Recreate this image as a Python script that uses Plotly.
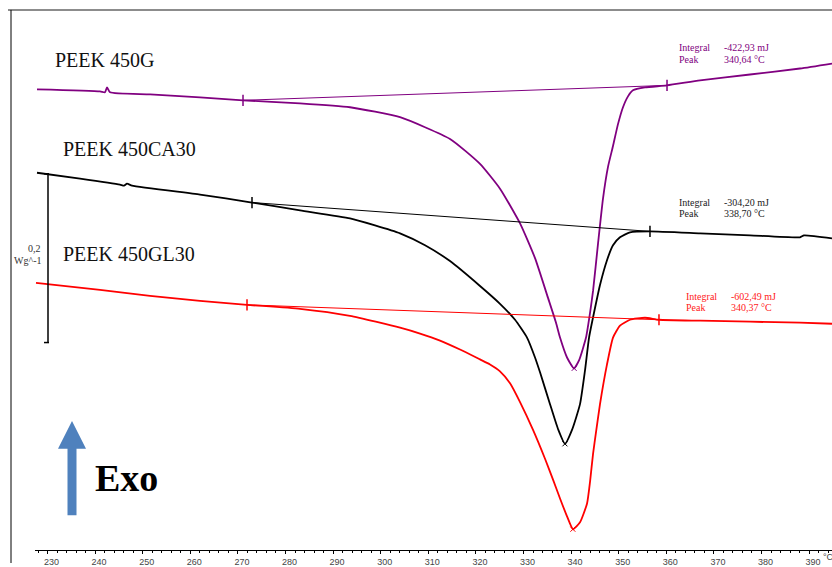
import plotly.graph_objects as go

# ---------------- data ----------------
temp_450G = [227.79, 241.03, 242.08, 242.50, 243.13, 251.54, 262.04, 271.07, 283.05, 293.55,
             304.06, 314.56, 320.86, 325.06, 329.27, 332.42, 335.15, 336.83, 337.67, 339.14,
             340.61, 341.66, 343.13, 343.98, 344.61, 345.66, 346.70, 347.75, 348.80, 349.85,
             350.90, 351.95, 353.00, 355.52, 360.15, 367.09, 377.59, 388.09, 394.81]
hf_450G = [0.5459, 0.5435, 0.5424, 0.5482, 0.5424, 0.5400, 0.5365, 0.5329, 0.5294, 0.5247,
           0.5129, 0.4871, 0.4576, 0.4282, 0.3871, 0.3459, 0.2988, 0.2694, 0.2518, 0.2282,
           0.2153, 0.2247, 0.2518, 0.2812, 0.3071, 0.3635, 0.4165, 0.4541, 0.4788, 0.5047,
           0.5247, 0.5376, 0.5447, 0.5482, 0.5506, 0.5565, 0.5635, 0.5706, 0.5765]

temp_450CA30 = [227.79, 236.83, 245.23, 246.07, 246.70, 247.75, 262.04, 272.96, 283.05, 293.55,
                298.80, 304.06, 309.31, 314.56, 320.86, 325.06, 328.22, 330.74, 332.42, 333.47,
                335.57, 337.25, 338.72, 340.19, 341.87, 342.92, 343.77, 345.03, 346.07, 347.54,
                348.80, 350.27, 352.37, 356.57, 367.09, 377.59, 388.09, 388.93, 394.81]
hf_450CA30 = [0.4471, 0.4400, 0.4329, 0.4318, 0.4341, 0.4318, 0.4212, 0.4118, 0.4024, 0.3929,
              0.3847, 0.3753, 0.3612, 0.3424, 0.3129, 0.2918, 0.2729, 0.2518, 0.2282, 0.2106,
              0.1729, 0.1435, 0.1259, 0.1424, 0.1729, 0.2129, 0.2518, 0.2871, 0.3141, 0.3435,
              0.3612, 0.3706, 0.3765, 0.3776, 0.3753, 0.3729, 0.3706, 0.3729, 0.3694]

temp_450GL30 = [227.58, 241.03, 251.54, 262.04, 271.91, 283.05, 293.55, 304.06, 308.26, 312.46,
                316.66, 320.86, 322.96, 325.06, 327.17, 329.27, 332.00, 334.52, 336.20, 337.67,
                339.14, 340.40, 341.87, 343.35, 343.98, 344.61, 345.24, 346.07, 347.54, 348.80,
                350.27, 352.37, 355.52, 358.46, 367.09, 377.59, 388.09, 394.81]
hf_450GL30 = [0.3165, 0.3082, 0.3012, 0.2953, 0.2906, 0.2859, 0.2776, 0.2635, 0.2565, 0.2482,
              0.2376, 0.2259, 0.2200, 0.2118, 0.1976, 0.1753, 0.1424, 0.1082, 0.0835, 0.0612,
              0.0400, 0.0247, 0.0329, 0.0553, 0.0812, 0.1141, 0.1400, 0.1729, 0.2200, 0.2518,
              0.2659, 0.2729, 0.2753, 0.2729, 0.2718, 0.2706, 0.2694, 0.2682]

# integration baselines (start / end limits)
base_450G_t = [271.07, 360.15]
base_450G_hf = [0.5329, 0.5506]
base_450CA30_t = [272.96, 356.57]
base_450CA30_hf = [0.4118, 0.3776]
base_450GL30_t = [271.91, 358.46]
base_450GL30_hf = [0.2906, 0.2729]

# peaks
peak_t = [340.64, 338.70, 340.37]
peak_hf = [0.2153, 0.1259, 0.0247]
integrals = ["-422,93 mJ", "-304,20 mJ", "-602,49 mJ"]
peaks_txt = ["340,64 °C", "338,70 °C", "340,37 °C"]
names = ["PEEK 450G", "PEEK 450CA30", "PEEK 450GL30"]
colors = ["#800080", "#000000", "#ff0000"]

scale_bar_bottom = 0.2459
scale_bar_size = 0.2   # W/g

tick_vals = list(range(230, 400, 10))

# ---------------- figure ----------------
W, H = 832, 567
def px(x):
    return x / W
def py(y):
    return 1 - y / H

fig = go.Figure()
series = [(temp_450G, hf_450G, base_450G_t, base_450G_hf),
          (temp_450CA30, hf_450CA30, base_450CA30_t, base_450CA30_hf),
          (temp_450GL30, hf_450GL30, base_450GL30_t, base_450GL30_hf)]
for i, (t, h, bt, bh) in enumerate(series):
    c = colors[i]
    fig.add_trace(go.Scatter(x=bt, y=bh, mode="lines", line=dict(color=c, width=1),
                             hoverinfo="skip", showlegend=False))
    fig.add_trace(go.Scatter(x=t, y=h, mode="lines", line=dict(color=c, width=1.8, shape="spline", smoothing=0.5),
                             name=names[i], showlegend=False))
    fig.add_trace(go.Scatter(x=bt, y=bh, mode="markers",
                             marker=dict(symbol="line-ns", size=8, line=dict(color=c, width=1.5)),
                             hoverinfo="skip", showlegend=False))
    fig.add_trace(go.Scatter(x=[peak_t[i]], y=[peak_hf[i]], mode="markers",
                             marker=dict(symbol="x-thin", size=5, line=dict(color=c, width=1)),
                             hoverinfo="skip", showlegend=False))

serif = "Liberation Serif"
annots = []
label_pos = [(53, 60), (61, 150), (61, 256)]
for i, (lx, ly) in enumerate(label_pos):
    annots.append(dict(x=px(lx), y=py(ly), xref="paper", yref="paper", text=names[i],
                       showarrow=False, xanchor="left", yanchor="middle",
                       font=dict(family=serif, size=20, color="#111")))

info_pos = [(677, 722, 48, 60), (677, 722, 204, 215), (684, 729, 299, 310)]
info_cols = ["#800080", "#222222", "#ff2020"]
for i, (x1, x2, y1, y2) in enumerate(info_pos):
    f = dict(family=serif, size=10, color=info_cols[i])
    annots += [
        dict(x=px(x1), y=py(y1), xref="paper", yref="paper", text="Integral", showarrow=False,
             xanchor="left", yanchor="middle", font=f),
        dict(x=px(x2), y=py(y1), xref="paper", yref="paper", text=integrals[i], showarrow=False,
             xanchor="left", yanchor="middle", font=f),
        dict(x=px(x1), y=py(y2), xref="paper", yref="paper", text="Peak", showarrow=False,
             xanchor="left", yanchor="middle", font=f),
        dict(x=px(x2), y=py(y2), xref="paper", yref="paper", text=peaks_txt[i], showarrow=False,
             xanchor="left", yanchor="middle", font=f),
    ]

annots += [
    dict(x=px(43), y=py(250), xref="paper", yref="paper", text="0,2", showarrow=False,
         xanchor="right", yanchor="middle", font=dict(family=serif, size=10, color="#333")),
    dict(x=px(43), y=py(262), xref="paper", yref="paper", text="Wg^-1", showarrow=False,
         xanchor="right", yanchor="middle", font=dict(family=serif, size=10, color="#333")),
    dict(x=px(93), y=py(481), xref="paper", yref="paper", text="<b>Exo</b>", showarrow=False,
         xanchor="left", yanchor="middle", font=dict(family=serif, size=38, color="#000")),
    dict(x=px(821), y=py(561), xref="paper", yref="paper", text="°C", showarrow=False,
         xanchor="left", yanchor="middle", font=dict(family="Liberation Sans", size=9, color="#444")),
]

shapes = [
    dict(type="line", xref="paper", yref="paper", x0=px(8), x1=1, y0=py(10), y1=py(10),
         line=dict(color="#8c8c8c", width=2)),
    dict(type="line", xref="paper", yref="paper", x0=px(11), x1=px(11), y0=py(10), y1=0,
         line=dict(color="#000", width=1)),
    # scale bar
    dict(type="line", xref="paper", yref="y", x0=px(48), x1=px(48),
         y0=scale_bar_bottom, y1=scale_bar_bottom + scale_bar_size, line=dict(color="#000", width=1.5)),
    dict(type="line", xref="paper", yref="y", x0=px(44), x1=px(49),
         y0=scale_bar_bottom, y1=scale_bar_bottom, line=dict(color="#000", width=1.5)),
    dict(type="line", xref="paper", yref="y", x0=px(44), x1=px(49),
         y0=scale_bar_bottom + scale_bar_size, y1=scale_bar_bottom + scale_bar_size,
         line=dict(color="#000", width=1.5)),
]
# Exo arrow
path = (f"M {px(67.5)},{py(519)} L {px(76.5)},{py(519)} L {px(76.5)},{py(452)} "
        f"L {px(86)},{py(452)} L {px(72)},{py(424)} L {px(58)},{py(452)} "
        f"L {px(67.5)},{py(452)} Z")
shapes.append(dict(type="path", xref="paper", yref="paper", path=path,
                   fillcolor="#4f81bd", line=dict(width=0)))

fig.update_layout(
    width=W, height=H, autosize=False,
    margin=dict(l=0, r=0, t=0, b=0, pad=0),
    paper_bgcolor="white", plot_bgcolor="white",
    annotations=annots, shapes=shapes,
    xaxis=dict(domain=[35 / W, 1], range=[227.37, 394.81], anchor="free", position=13 / H,
               showline=True, linecolor="#000", linewidth=1,
               ticks="outside", ticklen=3, tickcolor="#000", tickwidth=1,
               tickvals=tick_vals, ticktext=[str(v) for v in tick_vals],
               minor=dict(dtick=2, tick0=230, ticks="outside", ticklen=2, tickcolor="#000"),
               showgrid=False, zeroline=False, ticklabelshift=4, ticklabelstandoff=0,
               tickfont=dict(family="Liberation Sans", size=9, color="#444")),
    yaxis=dict(domain=[0, 1], range=[-13 / 850, 554 / 850], visible=False,
               showgrid=False, zeroline=False),
)

fig.write_html("out.html", config={"displayModeBar": False},
               post_script="document.body.style.margin='0';document.body.style.padding='0';")
